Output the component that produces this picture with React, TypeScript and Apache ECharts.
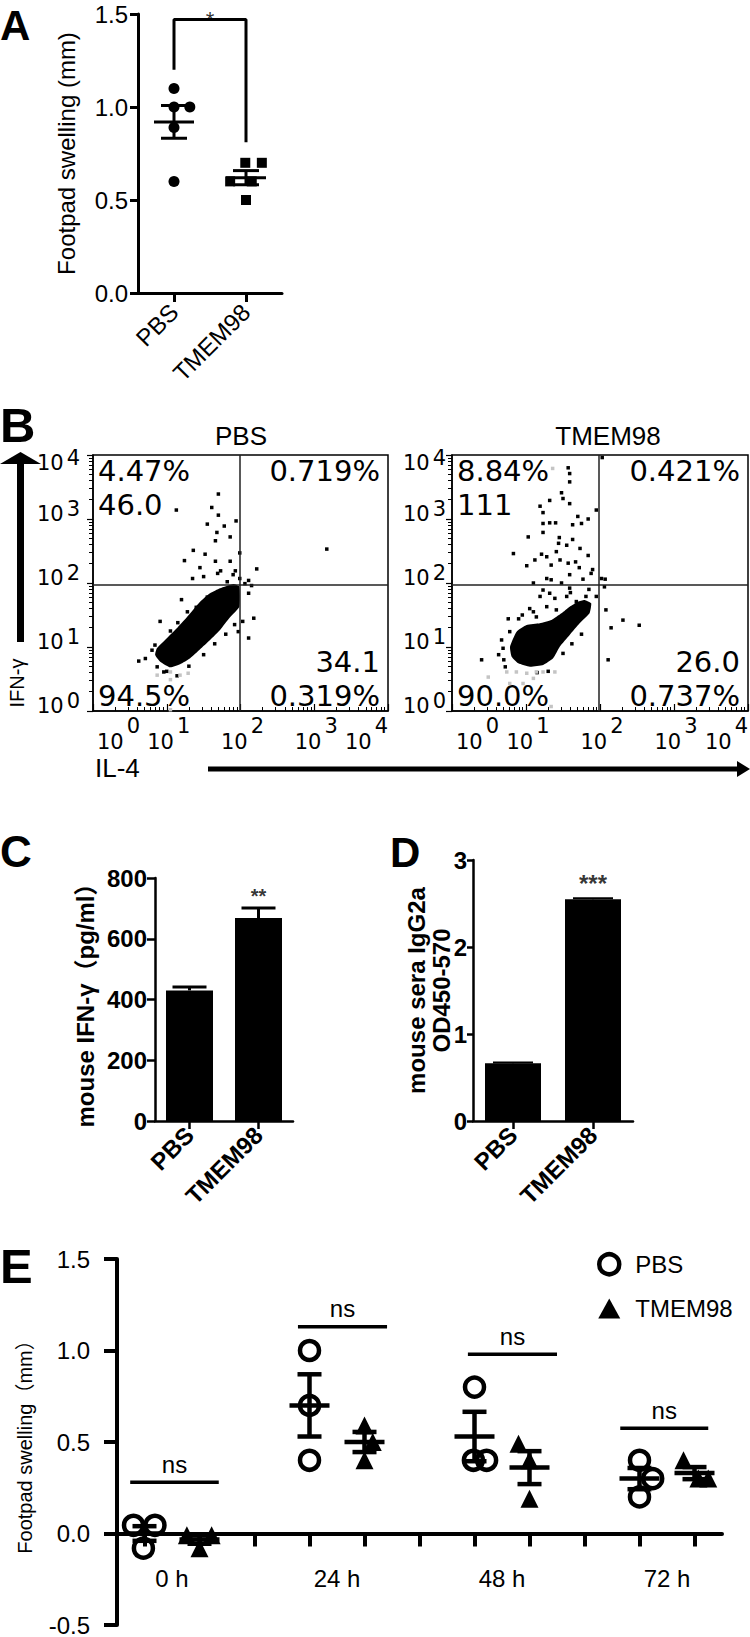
import React, { useEffect, useRef } from 'react';
import * as echarts from 'echarts';

const SANS = '"Liberation Sans", Arial, "Noto Sans CJK SC", sans-serif';
const FLOW = '"DejaVu Sans", "Liberation Sans", sans-serif';
const BLACK = '#000';

// ---------------- Panel A ----------------
const aCategories = ['PBS', 'TMEM98'];
const aYName = 'Footpad swelling (mm)';
const aPbsPoints = [[0, 1.1], [0, 1.0], [0.22, 1.0], [0, 0.89], [0, 0.6]];
const aTmemPoints = [[0.99, 0.7], [1.22, 0.7], [0.78, 0.6], [1.08, 0.6], [1.0, 0.5]];
const aMeans = [0.92, 0.62];
const aSems = [0.088, 0.038];
const aBracket = [[0, 1.2], [0, 1.47], [1, 1.47], [1, 0.81]];
const aStar = '*';

// ---------------- Panel B (flow cytometry, values in log10 decades) ----------------
const bTitles = ['PBS', 'TMEM98'];
const bAxisNames = ['IFN-γ', 'IL-4'];
const bPbsQuad = ['4.47%', '46.0', '0.719%', '34.1', '94.5%', '0.319%'];
const bTmemQuad = ['8.84%', '111', '0.421%', '26.0', '90.0%', '0.737%'];
const bPbsGate = [1.99, 1.97];
const bTmemGate = [1.98, 1.97];
const bPbsBlob = [
  [0.866, 0.979], [1.001, 1.135], [1.136, 1.292], [1.272, 1.464], [1.452, 1.708], [1.587, 1.839],
  [1.723, 1.917], [1.903, 1.984], [1.984, 1.943], [1.984, 1.63], [1.858, 1.464], [1.723, 1.266],
  [1.587, 1.109], [1.452, 0.964], [1.317, 0.823], [1.181, 0.729], [1.046, 0.682], [0.911, 0.771], [0.843, 0.875],
];
const bPbsDots = [
  [1.7, 3.39], [1.61, 3.18], [1.7, 3.06], [1.94, 2.97], [1.55, 2.92], [1.78, 2.89], [1.68, 2.79], [1.86, 2.72],
  [1.66, 2.66], [1.36, 2.51], [1.52, 2.45], [1.99, 2.47], [1.24, 2.35], [1.66, 2.34], [1.86, 2.34], [1.45, 2.24],
  [1.73, 2.19], [2.22, 2.22], [1.93, 2.19], [1.35, 2.07], [1.5, 2.1], [1.69, 2.15], [3.17, 2.53], [1.13, 3.14],
  [2.11, 2.04], [2.11, 1.84], [2.18, 1.45], [2.11, 1.14], [1.97, 1.24], [2.03, 1.4], [1.2, 1.74], [0.91, 1.4],
  [0.84, 1.03], [0.62, 0.78], [0.71, 0.82], [0.87, 0.69], [0.96, 0.61], [1.14, 0.55], [1.0, 0.8],
  [1.9, 2.13], [1.99, 2.07], [2.06, 1.99], [2.15, 1.96], [1.05, 1.25], [1.15, 1.38], [1.28, 1.55], [1.4, 1.62],
  [1.55, 1.78], [1.82, 2.02], [1.3, 0.7], [1.5, 0.88], [1.65, 1.05], [1.8, 1.2], [1.92, 1.35], [0.8, 0.95], [1.0, 0.62],
];
const bPbsGray = [[0.87, 0.56], [1.05, 0.61], [1.18, 0.56], [1.29, 0.59], [1.05, 0.49], [1.05, 0.02]];
const bTmemBlob = [
  [0.784, 1.005], [0.873, 1.24], [1.008, 1.344], [1.187, 1.37], [1.344, 1.422], [1.478, 1.526], [1.59, 1.63],
  [1.702, 1.708], [1.792, 1.734], [1.881, 1.682], [1.859, 1.526], [1.725, 1.37], [1.59, 1.188], [1.456, 1.005],
  [1.366, 0.823], [1.232, 0.719], [1.053, 0.693], [0.896, 0.745], [0.806, 0.849],
];
const bTmemDots = [
  [2.03, 3.96], [1.57, 3.8], [1.59, 3.71], [1.59, 3.58], [1.48, 3.41], [1.5, 3.32], [1.32, 3.29], [1.59, 3.24],
  [1.19, 3.2], [1.23, 3.1], [1.95, 3.14], [1.7, 3.04], [1.84, 3.0], [1.32, 2.94], [1.23, 2.93], [1.4, 2.94],
  [1.63, 2.91], [1.75, 2.93], [1.23, 2.79], [1.03, 2.72], [1.45, 2.71], [1.63, 2.68], [1.44, 2.62], [1.55, 2.59],
  [1.73, 2.54], [1.41, 2.49], [0.83, 2.46], [1.21, 2.45], [1.28, 2.41], [1.12, 2.36], [1.46, 2.36], [1.84, 2.43],
  [1.57, 2.31], [1.67, 2.33], [1.01, 2.27], [1.34, 2.28], [1.72, 2.24], [1.9, 2.21], [1.88, 2.15], [1.59, 2.13],
  [1.28, 2.07], [1.34, 2.05], [1.77, 2.06], [2.02, 2.07], [2.07, 2.06], [1.48, 2.0], [1.1, 2.0], [1.59, 1.92],
  [1.23, 1.89], [1.32, 1.84], [1.95, 1.79], [2.06, 1.94], [1.19, 1.79], [1.39, 1.76], [1.55, 1.79], [1.81, 1.79],
  [1.68, 1.71], [1.05, 1.6], [1.28, 1.63], [1.41, 1.58], [2.08, 1.58], [1.14, 1.47], [0.76, 1.44], [0.9, 1.44],
  [2.31, 1.42], [2.53, 1.34], [2.15, 1.3], [0.78, 1.24], [2.11, 0.8], [0.4, 0.8], [0.63, 0.88], [0.67, 1.11],
  [0.69, 0.98], [0.72, 0.69], [0.95, 1.5], [1.1, 1.55], [1.6, 1.85], [1.85, 1.9], [1.75, 1.2], [1.5, 0.9],
  [1.62, 1.05], [1.3, 0.62], [1.15, 0.6], [0.7, 0.8],
];
const bTmemGray = [
  [0.49, 0.53], [0.74, 0.61], [0.87, 0.61], [1.01, 0.59], [1.14, 0.61], [1.23, 0.61], [1.39, 0.61],
  [0.78, 0.43], [0.96, 0.43], [1.1, 0.51], [1.34, 0.07], [1.36, 3.79],
];

// ---------------- Panel C ----------------
const cCategories = ['PBS', 'TMEM98'];
const cValues = [430, 668];
const cErrors = [11, 33];
const cStar = '**';
const cYName = 'mouse IFN-γ（pg/ml）';

// ---------------- Panel D ----------------
const dCategories = ['PBS', 'TMEM98'];
const dValues = [0.665, 2.55];
const dErrors = [0.006, 0.01];
const dStar = '***';
const dYName = 'mouse sera IgG2a\nOD450-570';

// ---------------- Panel E ----------------
const eSlots = ['PBS 0 h', 'TMEM98 0 h', 'gap 1', 'PBS 24 h', 'TMEM98 24 h', 'gap 2', 'PBS 48 h', 'TMEM98 48 h', 'gap 3', 'PBS 72 h', 'TMEM98 72 h'];
const eTimeLabels = ['0 h', '24 h', '48 h', '72 h'];
const eYName = 'Footpad swelling（mm）';
const eSeriesNames = ['PBS', 'TMEM98'];
const ePbsPoints = [
  [-0.2, 0.045], [0.19, 0.045], [-0.02, -0.08],
  [3, 1.0], [3, 0.7], [3, 0.4],
  [6, 0.8], [5.98, 0.4], [6.22, 0.4],
  [9, 0.4], [9.24, 0.3], [9, 0.2],
];
const eTmemPoints = [
  [0.77, -0.01], [1.22, -0.01], [1.0, -0.08],
  [4, 0.59], [4.15, 0.5], [4, 0.4],
  [6.8, 0.49], [7, 0.4], [7, 0.19],
  [9.8, 0.4], [10.07, 0.3], [10.25, 0.3],
];
const ePbsSlots = [0, 3, 6, 9];
const eTmemSlots = [1, 4, 7, 10];
const ePbsMeans = [0.0, 0.7, 0.53, 0.3];
const ePbsSems = [0.04, 0.17, 0.135, 0.058];
const eTmemMeans = [-0.033, 0.5, 0.36, 0.33];
const eTmemSems = [0.023, 0.055, 0.09, 0.033];
const eNsBars = [[-0.26, 1.35, 0.28], [2.79, 4.41, 1.13], [5.88, 7.5, 0.98], [8.65, 10.25, 0.575]];
const eNsText = 'ns';

const toLin = (p: number[]) => [Math.pow(10, p[0]), Math.pow(10, p[1])];

function meanSemItem(hw: number, cw: number, lw: number) {
  return (_params: any, api: any) => {
    const x = api.value(0), m = api.value(1), s = api.value(2);
    const c = api.coord([x, m]);
    const t = api.coord([x, m + s]);
    const b = api.coord([x, m - s]);
    const st = { stroke: BLACK, lineWidth: lw };
    return {
      type: 'group',
      children: [
        { type: 'line', shape: { x1: c[0] - hw, y1: c[1], x2: c[0] + hw, y2: c[1] }, style: st },
        { type: 'line', shape: { x1: c[0], y1: t[1], x2: c[0], y2: b[1] }, style: st },
        { type: 'line', shape: { x1: c[0] - cw, y1: t[1], x2: c[0] + cw, y2: t[1] }, style: st },
        { type: 'line', shape: { x1: c[0] - cw, y1: b[1], x2: c[0] + cw, y2: b[1] }, style: st },
      ],
    };
  };
}

function errUpItem(cw: number, lw: number) {
  return (_params: any, api: any) => {
    const i = api.value(0), v = api.value(1), e = api.value(2);
    const b = api.coord([i, v]);
    const t = api.coord([i, v + e]);
    const st = { stroke: BLACK, lineWidth: lw };
    return {
      type: 'group',
      children: [
        { type: 'line', shape: { x1: b[0], y1: b[1], x2: t[0], y2: t[1] }, style: st },
        { type: 'line', shape: { x1: t[0] - cw, y1: t[1], x2: t[0] + cw, y2: t[1] }, style: st },
      ],
    };
  };
}

function blobItem(pts: number[][]) {
  return (params: any, api: any) => {
    if (params.dataIndex !== 0) return null;
    const points = pts.map((p) => api.coord(p));
    return { type: 'polygon', shape: { points, smooth: 0.15 }, style: { fill: BLACK } };
  };
}

function nsItem(_params: any, api: any) {
  const x1 = api.value(0), x2 = api.value(1), y = api.value(2);
  const a = api.coord([x1, y]);
  const b = api.coord([x2, y]);
  return {
    type: 'group',
    children: [
      { type: 'line', shape: { x1: a[0], y1: a[1], x2: b[0], y2: b[1] }, style: { stroke: BLACK, lineWidth: 3.5 } },
      {
        type: 'text', x: (a[0] + b[0]) / 2, y: a[1] - 18,
        style: { text: eNsText, fontSize: 24, fontFamily: SANS, fill: BLACK, align: 'center', verticalAlign: 'middle' },
      },
    ],
  };
}

// superscript on the first line, base "10" on the second line
const flowXRich = {
  s: { fontFamily: FLOW, fontSize: 21, lineHeight: 11, align: 'left', padding: [0, 0, 0, 33.7], color: BLACK },
  b: { fontFamily: FLOW, fontSize: 21, lineHeight: 21, align: 'left', padding: [0, 0, 0, 4], color: BLACK },
};
const flowYRich = {
  s: { fontFamily: FLOW, fontSize: 21, lineHeight: 5, align: 'left', padding: [0, 0, 0, 29.7], color: BLACK },
  b: { fontFamily: FLOW, fontSize: 21, lineHeight: 21, align: 'left', padding: [0, 0, 15, 0], color: BLACK },
};
const expFormatter = (v: number) => `{s|${Math.round(Math.log10(v))}}\n{b|10}`;

function flowXAxis(grid: number) {
  return {
    type: 'log', logBase: 10, gridIndex: grid, min: 1, max: 10000, splitNumber: 4,
    axisLine: { show: true, onZero: false, lineStyle: { color: BLACK, width: 1.5 } },
    axisTick: { show: true, inside: true, length: 7, lineStyle: { color: BLACK, width: 1.2 } },
    minorTick: { show: true, splitNumber: 9, length: 4, lineStyle: { color: BLACK, width: 1 } },
    splitLine: { show: false },
    minorSplitLine: { show: false },
    axisLabel: {
      margin: 9, formatter: expFormatter, rich: flowXRich, showMinLabel: true, showMaxLabel: true,
      alignMinLabel: 'left', alignMaxLabel: 'right', hideOverlap: false,
    },
  };
}
function flowYAxis(grid: number, margin: number) {
  return {
    type: 'log', logBase: 10, gridIndex: grid, min: 1, max: 10000, splitNumber: 4,
    axisLine: { show: true, onZero: false, lineStyle: { color: BLACK, width: 1.5 } },
    axisTick: { show: true, inside: false, length: 6, lineStyle: { color: BLACK, width: 1.2 } },
    minorTick: { show: true, splitNumber: 9, length: 4, lineStyle: { color: BLACK, width: 1 } },
    splitLine: { show: false },
    minorSplitLine: { show: false },
    axisLabel: {
      margin, formatter: expFormatter, rich: flowYRich, showMinLabel: true, showMaxLabel: true,
      verticalAlignMaxLabel: 'top', hideOverlap: false,
    },
  };
}

function quadTexts(labels: string[], left: number, right: number) {
  const ys = [471, 505, 471, 662, 696, 696];
  const xs = [left, left, right, right, left, right];
  const al = ['left', 'left', 'right', 'right', 'left', 'right'];
  return labels.map((t, i) => ({
    type: 'text', x: xs[i], y: ys[i],
    style: { text: t, fontSize: 29, fontFamily: FLOW, fill: BLACK, align: al[i], verticalAlign: 'middle' },
  }));
}

function buildOption(): any {
  const gridBase = { containLabel: false, outerBoundsMode: 'none' };
  const boldLabel = { fontSize: 24, fontWeight: 'bold', fontFamily: SANS, color: BLACK };
  const letter = (t: string, x: number, y: number, size: number) => ({
    type: 'text', x, y,
    style: { text: t, fontSize: size, fontWeight: 'bold', fontFamily: SANS, fill: BLACK, align: 'left', verticalAlign: 'middle' },
  });

  return {
    animation: false,
    backgroundColor: '#fff',
    textStyle: { fontFamily: SANS, color: BLACK },
    grid: [
      { ...gridBase, left: 138, top: 14, width: 144, height: 279 },
      { ...gridBase, left: 93, top: 455, width: 295, height: 256, show: true, borderColor: BLACK, borderWidth: 1.5, backgroundColor: 'transparent' },
      { ...gridBase, left: 452, top: 455, width: 296, height: 256, show: true, borderColor: BLACK, borderWidth: 1.5, backgroundColor: 'transparent' },
      { ...gridBase, left: 155, top: 878, width: 138, height: 243 },
      { ...gridBase, left: 473, top: 860, width: 160, height: 261 },
      { ...gridBase, left: 117, top: 1259, width: 605, height: 366 },
    ],
    legend: {
      show: true, orient: 'vertical', left: 592, top: 1247, itemGap: 20, itemWidth: 22, itemHeight: 20,
      selectedMode: false,
      textStyle: { fontSize: 24, fontFamily: SANS, color: BLACK, padding: [0, 0, 0, 10] },
      data: [
        { name: eSeriesNames[0], icon: 'circle', itemStyle: { color: 'rgba(0,0,0,0)', borderColor: BLACK, borderWidth: 4.5 } },
        { name: eSeriesNames[1], icon: 'triangle', itemStyle: { color: BLACK, borderWidth: 0, opacity: 1 } },
      ],
    },
    xAxis: [
      {
        type: 'category', gridIndex: 0, data: aCategories, boundaryGap: true,
        axisLine: { show: true, onZero: false, lineStyle: { color: BLACK, width: 3 } },
        axisTick: { show: true, alignWithLabel: true, length: 9, lineStyle: { color: BLACK, width: 3 } },
        axisLabel: { rotate: 45, fontSize: 24, fontFamily: SANS, color: BLACK, margin: 15, interval: 0 },
      },
      { type: 'value', gridIndex: 0, min: -0.5, max: 1.5, show: false },
      flowXAxis(1),
      flowXAxis(2),
      {
        type: 'category', gridIndex: 3, data: cCategories, boundaryGap: true,
        axisLine: { show: true, onZero: false, lineStyle: { color: BLACK, width: 2.5 } },
        axisTick: { show: true, alignWithLabel: true, length: 8, lineStyle: { color: BLACK, width: 2.5 } },
        axisLabel: { ...boldLabel, rotate: 45, margin: 10, interval: 0 },
      },
      {
        type: 'category', gridIndex: 4, data: dCategories, boundaryGap: true,
        axisLine: { show: true, onZero: false, lineStyle: { color: BLACK, width: 2.5 } },
        axisTick: { show: true, alignWithLabel: true, length: 8, lineStyle: { color: BLACK, width: 2.5 } },
        axisLabel: { ...boldLabel, rotate: 45, margin: 10, interval: 0 },
      },
      {
        type: 'category', gridIndex: 5, data: eSlots, boundaryGap: true,
        axisLine: { show: true, onZero: true, lineStyle: { color: BLACK, width: 4 } },
        axisTick: { show: true, alignWithLabel: true, interval: 0, length: 13, lineStyle: { color: BLACK, width: 4 } },
        axisLabel: { show: false },
      },
      { type: 'value', gridIndex: 5, min: -0.5, max: 10.5, show: false },
      {
        type: 'category', gridIndex: 5, data: eSlots, boundaryGap: true, position: 'bottom', offset: -59,
        axisLine: { show: false, onZero: false },
        axisTick: { show: false },
        axisLabel: {
          interval: 0, margin: 0,
          formatter: (_v: string, i: number) => (i % 3 === 0 ? `{t|${eTimeLabels[i / 3]}}` : ''),
          rich: { t: { fontSize: 24, fontFamily: SANS, color: BLACK, padding: [0, 0, 0, 55] } },
        },
      },
    ],
    yAxis: [
      {
        type: 'value', gridIndex: 0, min: 0, max: 1.5, interval: 0.5,
        name: aYName, nameLocation: 'middle', nameGap: 60, nameMoveOverlap: false,
        nameTextStyle: { fontSize: 24, fontFamily: SANS, color: BLACK },
        axisLine: { show: true, onZero: false, lineStyle: { color: BLACK, width: 3 } },
        axisTick: { show: true, length: 8, lineStyle: { color: BLACK, width: 3 } },
        axisLabel: { fontSize: 24, lineHeight: 20, fontFamily: SANS, color: BLACK, margin: 10, formatter: (v: number) => v.toFixed(1) },
        splitLine: { show: false },
      },
      flowYAxis(1, 13),
      flowYAxis(2, 6),
      {
        type: 'value', gridIndex: 3, min: 0, max: 800, interval: 200,
        name: cYName, nameLocation: 'middle', nameGap: 58, nameMoveOverlap: false,
        nameTextStyle: { ...boldLabel },
        axisLine: { show: true, onZero: false, lineStyle: { color: BLACK, width: 2.5 } },
        axisTick: { show: true, length: 8, lineStyle: { color: BLACK, width: 2.5 } },
        axisLabel: { ...boldLabel, margin: 8 },
        splitLine: { show: false },
      },
      {
        type: 'value', gridIndex: 4, min: 0, max: 3, interval: 1,
        name: dYName, nameLocation: 'middle', nameGap: 19, nameMoveOverlap: false,
        nameTextStyle: { ...boldLabel, lineHeight: 25 },
        axisLine: { show: true, onZero: false, lineStyle: { color: BLACK, width: 2.5 } },
        axisTick: { show: true, length: 6, lineStyle: { color: BLACK, width: 2.5 } },
        axisLabel: { ...boldLabel, margin: 6 },
        splitLine: { show: false },
      },
      {
        type: 'value', gridIndex: 5, min: -0.5, max: 1.5, interval: 0.5,
        name: eYName, nameLocation: 'middle', nameGap: 82, nameMoveOverlap: false,
        nameTextStyle: { fontSize: 20, fontFamily: SANS, color: BLACK },
        axisLine: { show: true, onZero: false, lineStyle: { color: BLACK, width: 4 } },
        axisTick: { show: true, length: 13, lineStyle: { color: BLACK, width: 4 } },
        axisLabel: { fontSize: 24, fontFamily: SANS, color: BLACK, margin: 27, formatter: (v: number) => v.toFixed(1) },
        splitLine: { show: false },
      },
    ],
    series: [
      // ---- A ----
      { type: 'scatter', xAxisIndex: 1, yAxisIndex: 0, data: aPbsPoints, symbol: 'circle', symbolSize: 11, itemStyle: { color: BLACK, opacity: 1 }, silent: true },
      { type: 'scatter', xAxisIndex: 1, yAxisIndex: 0, data: aTmemPoints, symbol: 'rect', symbolSize: 10, itemStyle: { color: BLACK, opacity: 1 }, silent: true },
      {
        type: 'custom', xAxisIndex: 1, yAxisIndex: 0, silent: true,
        data: aMeans.map((m, i) => [i, m, aSems[i]]),
        renderItem: meanSemItem(20, 13, 3),
      },
      {
        type: 'line', xAxisIndex: 1, yAxisIndex: 0, data: aBracket, symbol: 'none', silent: true, clip: false,
        lineStyle: { color: BLACK, width: 3 },
      },
      {
        type: 'scatter', xAxisIndex: 1, yAxisIndex: 0, data: [[0.5, aBracket[1][1]]], symbolSize: 0, silent: true,
        label: { show: true, position: 'inside', formatter: aStar, fontSize: 22, lineHeight: 20, fontFamily: SANS, color: BLACK },
      },
      // ---- B left (PBS) ----
      { type: 'custom', xAxisIndex: 2, yAxisIndex: 1, silent: true, data: bPbsBlob.map(toLin), renderItem: blobItem(bPbsBlob.map(toLin)) },
      {
        type: 'scatter', xAxisIndex: 2, yAxisIndex: 1, data: bPbsDots.map(toLin), symbol: 'rect', symbolSize: 3.5,
        itemStyle: { color: BLACK, opacity: 1 }, silent: true,
        markLine: {
          silent: true, symbol: 'none', label: { show: false },
          lineStyle: { color: '#222', width: 1.5, type: 'solid' },
          data: [{ xAxis: Math.pow(10, bPbsGate[0]) }, { yAxis: Math.pow(10, bPbsGate[1]) }],
        },
      },
      { type: 'scatter', xAxisIndex: 2, yAxisIndex: 1, data: bPbsGray.map(toLin), symbol: 'rect', symbolSize: 3.5, itemStyle: { color: '#c4c4c4', opacity: 1 }, silent: true },
      // ---- B right (TMEM98) ----
      { type: 'custom', xAxisIndex: 3, yAxisIndex: 2, silent: true, data: bTmemBlob.map(toLin), renderItem: blobItem(bTmemBlob.map(toLin)) },
      {
        type: 'scatter', xAxisIndex: 3, yAxisIndex: 2, data: bTmemDots.map(toLin), symbol: 'rect', symbolSize: 3.5,
        itemStyle: { color: BLACK, opacity: 1 }, silent: true,
        markLine: {
          silent: true, symbol: 'none', label: { show: false },
          lineStyle: { color: '#222', width: 1.5, type: 'solid' },
          data: [{ xAxis: Math.pow(10, bTmemGate[0]) }, { yAxis: Math.pow(10, bTmemGate[1]) }],
        },
      },
      { type: 'scatter', xAxisIndex: 3, yAxisIndex: 2, data: bTmemGray.map(toLin), symbol: 'rect', symbolSize: 3.5, itemStyle: { color: '#c4c4c4', opacity: 1 }, silent: true },
      // ---- C ----
      { type: 'bar', xAxisIndex: 4, yAxisIndex: 3, data: cValues, barWidth: 47, itemStyle: { color: BLACK }, silent: true },
      { type: 'custom', xAxisIndex: 4, yAxisIndex: 3, silent: true, data: cValues.map((v, i) => [i, v, cErrors[i]]), renderItem: errUpItem(17, 3) },
      {
        type: 'scatter', xAxisIndex: 4, yAxisIndex: 3, data: [[1, cValues[1] + cErrors[1]]], symbolSize: 0, silent: true,
        label: { show: true, position: 'top', distance: 2, formatter: cStar, fontSize: 20, fontWeight: 'bold', fontFamily: SANS, color: BLACK },
      },
      // ---- D ----
      { type: 'bar', xAxisIndex: 5, yAxisIndex: 4, data: dValues, barWidth: 56, itemStyle: { color: BLACK }, silent: true },
      { type: 'custom', xAxisIndex: 5, yAxisIndex: 4, silent: true, data: dValues.map((v, i) => [i, v, dErrors[i]]), renderItem: errUpItem(20, 2) },
      {
        type: 'scatter', xAxisIndex: 5, yAxisIndex: 4, data: [[1, dValues[1] + dErrors[1]]], symbolSize: 0, silent: true,
        label: { show: true, position: 'top', distance: 3, formatter: dStar, fontSize: 24, fontWeight: 'bold', fontFamily: SANS, color: BLACK },
      },
      // ---- E ----
      {
        name: eSeriesNames[0], type: 'scatter', xAxisIndex: 7, yAxisIndex: 5, data: ePbsPoints, symbol: 'circle', symbolSize: 19,
        itemStyle: { color: 'rgba(0,0,0,0)', borderColor: BLACK, borderWidth: 4.5, opacity: 1 }, silent: true,
      },
      {
        name: eSeriesNames[1], type: 'scatter', xAxisIndex: 7, yAxisIndex: 5, data: eTmemPoints, symbol: 'triangle', symbolSize: 18,
        itemStyle: { color: BLACK, opacity: 1 }, silent: true,
      },
      {
        type: 'custom', xAxisIndex: 7, yAxisIndex: 5, silent: true,
        data: ePbsMeans.map((m, i) => [ePbsSlots[i], m, ePbsSems[i]]),
        renderItem: meanSemItem(20, 12, 4.5),
      },
      {
        type: 'custom', xAxisIndex: 7, yAxisIndex: 5, silent: true,
        data: eTmemMeans.map((m, i) => [eTmemSlots[i], m, eTmemSems[i]]),
        renderItem: meanSemItem(20, 12, 4.5),
      },
      { type: 'custom', xAxisIndex: 7, yAxisIndex: 5, silent: true, data: eNsBars, renderItem: nsItem },
    ],
    graphic: {
      elements: [
        letter('A', 0, 25, 42),
        letter('B', 0, 425, 49),
        letter('C', 0, 851, 44),
        letter('D', 390, 852, 42),
        letter('E', 0, 1266, 49),
        { type: 'text', x: 241, y: 436, style: { text: bTitles[0], fontSize: 26, fontFamily: SANS, fill: BLACK, align: 'center', verticalAlign: 'middle' } },
        { type: 'text', x: 608, y: 436, style: { text: bTitles[1], fontSize: 26, fontFamily: SANS, fill: BLACK, align: 'center', verticalAlign: 'middle' } },
        ...quadTexts(bPbsQuad, 98, 380),
        ...quadTexts(bTmemQuad, 457, 740),
        { type: 'rect', shape: { x: 17, y: 461, width: 7, height: 181 }, style: { fill: BLACK } },
        { type: 'polygon', shape: { points: [[0, 464], [41, 464], [20.5, 452]] }, style: { fill: BLACK } },
        { type: 'text', x: 17, y: 683, rotation: Math.PI / 2, style: { text: bAxisNames[0], fontSize: 20, fontFamily: SANS, fill: BLACK, align: 'center', verticalAlign: 'middle' } },
        { type: 'text', x: 95, y: 768, style: { text: bAxisNames[1], fontSize: 26, fontFamily: SANS, fill: BLACK, align: 'left', verticalAlign: 'middle' } },
        { type: 'rect', shape: { x: 208, y: 766.5, width: 532, height: 5 }, style: { fill: BLACK } },
        { type: 'polygon', shape: { points: [[737, 761], [750, 769], [737, 777]] }, style: { fill: BLACK } },
      ],
    },
  };
}

export default function App() {
  const ref = useRef<HTMLDivElement>(null);
  useEffect(() => {
    document.body.style.margin = '0';
    const chart = echarts.init(ref.current as HTMLDivElement, null, { renderer: 'svg', width: 750, height: 1637 });
    chart.setOption(buildOption());
    return () => chart.dispose();
  }, []);
  return <div ref={ref} style={{ width: 750, height: 1637 }} />;
}
